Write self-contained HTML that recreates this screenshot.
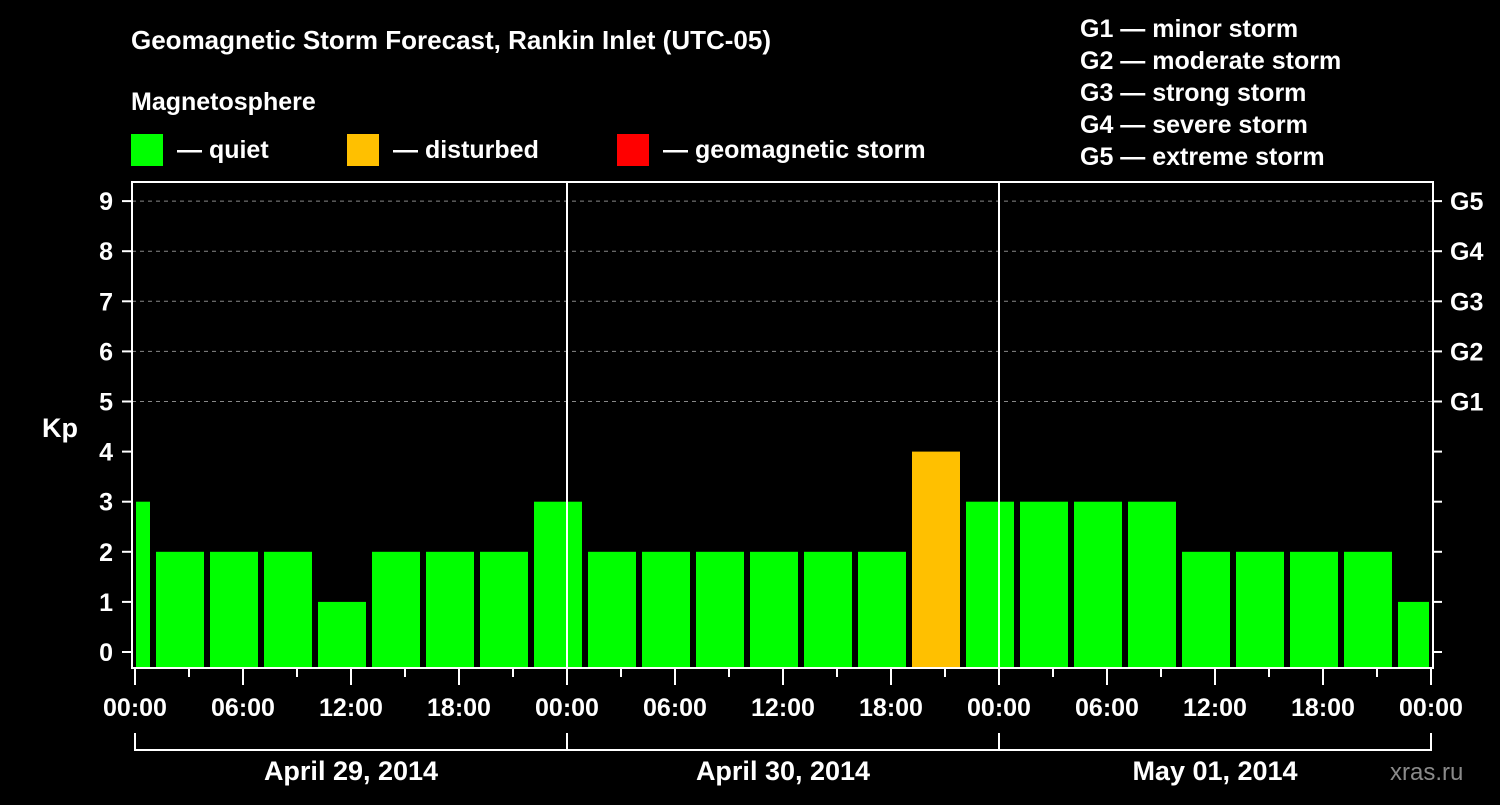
<!DOCTYPE html>
<html><head><meta charset="utf-8"><style>
body{margin:0;background:#000;width:1500px;height:800px;overflow:hidden}
svg text{font-family:"Liberation Sans",sans-serif;font-weight:bold;fill:#fff}
</style></head><body>
<svg id="c" width="1500" height="800" xmlns="http://www.w3.org/2000/svg">
<text x="131" y="49" font-size="26">Geomagnetic Storm Forecast, Rankin Inlet (UTC-05)</text>
<text x="131" y="110" font-size="25">Magnetosphere</text>
<g><rect x="131" y="134" width="32" height="32" fill="#00ff00"/><text x="177" y="158" font-size="25">— quiet</text></g>
<g><rect x="347" y="134" width="32" height="32" fill="#ffc000"/><text x="393" y="158" font-size="25">— disturbed</text></g>
<g><rect x="617" y="134" width="32" height="32" fill="#ff0000"/><text x="663" y="158" font-size="25">— geomagnetic storm</text></g>
<g font-size="25">
<text x="1080" y="37">G1 — minor storm</text><text x="1080" y="69">G2 — moderate storm</text><text x="1080" y="101">G3 — strong storm</text><text x="1080" y="133">G4 — severe storm</text><text x="1080" y="165">G5 — extreme storm</text>
</g>
<text x="42" y="437" font-size="27">Kp</text>
<text x="1390" y="780" font-size="24" fill="#888" style="fill:#8a8a8a;font-weight:normal">xras.ru</text>
<g id="g"></g>
</svg>
<script>
const kpValues=[3,2,2,2,1,2,2,2,3,2,2,2,2,2,2,4,3,3,3,3,2,2,2,2,1];
const startHour=-2;
const yTicks=[0,1,2,3,4,5,6,7,8,9];
const gLabels=['G1','G2','G3','G4','G5'];
const xLabels=['00:00','06:00','12:00','18:00','00:00','06:00','12:00','18:00','00:00','06:00','12:00','18:00','00:00'];
const dayLabels=['April 29, 2014','April 30, 2014','May 01, 2014'];
const L=132,R=1433,T=182,B=668,X0=135,PXH=18;
const x=h=>X0+h*PXH, y=v=>652-v*50.1;
const g=document.getElementById('g'),NS='http://www.w3.org/2000/svg';
function mk(t,a){const e=document.createElementNS(NS,t);for(const k in a)e.setAttribute(k,a[k]);g.appendChild(e);return e;}
for(let v=5;v<=9;v++){const e=mk('line',{x1:L,x2:R,y1:y(v),y2:y(v),stroke:'#888','stroke-dasharray':'4,4','stroke-width':1});

}
kpValues.forEach((v,i)=>{let h0=startHour+3*i,x0=x(h0)+3,x1=x(h0+3)-3;x0=Math.max(x0,L+4);x1=Math.min(x1,R-4);
const e=mk('rect',{x:x0,y:y(v),width:x1-x0,height:B-y(v),fill:v>=5?'#ff0000':v>=4?'#ffc000':'#00ff00'});

});
[1,2].forEach(d=>{const e=mk('line',{x1:x(24*d),x2:x(24*d),y1:T,y2:B,stroke:'#fff','stroke-width':2});

});
const fr=mk('rect',{x:L,y:T,width:R-L,height:B-T,fill:'none',stroke:'#fff','stroke-width':2});


yTicks.forEach(v=>{mk('line',{x1:122,x2:L,y1:y(v),y2:y(v),stroke:'#fff','stroke-width':2});mk('line',{x1:R,x2:1442,y1:y(v),y2:y(v),stroke:'#fff','stroke-width':2});
const t=mk('text',{x:113,y:y(v)+9,'font-size':25,'text-anchor':'end'});t.textContent=v;

});
gLabels.forEach((s,i)=>{const t=mk('text',{x:1450,y:y(5+i)+9,'font-size':25});t.textContent=s;

});
for(let h=0;h<=72;h+=3){mk('line',{x1:x(h),x2:x(h),y1:B,y2:h%6?B+9:B+17,stroke:'#fff','stroke-width':2});}
xLabels.forEach((s,i)=>{const t=mk('text',{x:x(i*6),y:716,'font-size':25,'text-anchor':'middle'});t.textContent=s;

});
dayLabels.forEach((s,i)=>{mk('path',{d:`M${x(24*i)},733V750H${x(24*i+24)}V733`,fill:'none',stroke:'#fff','stroke-width':2});
const t=mk('text',{x:x(24*i+12),y:780,'font-size':27,'text-anchor':'middle'});t.textContent=s;

});
</script>
</body></html>
